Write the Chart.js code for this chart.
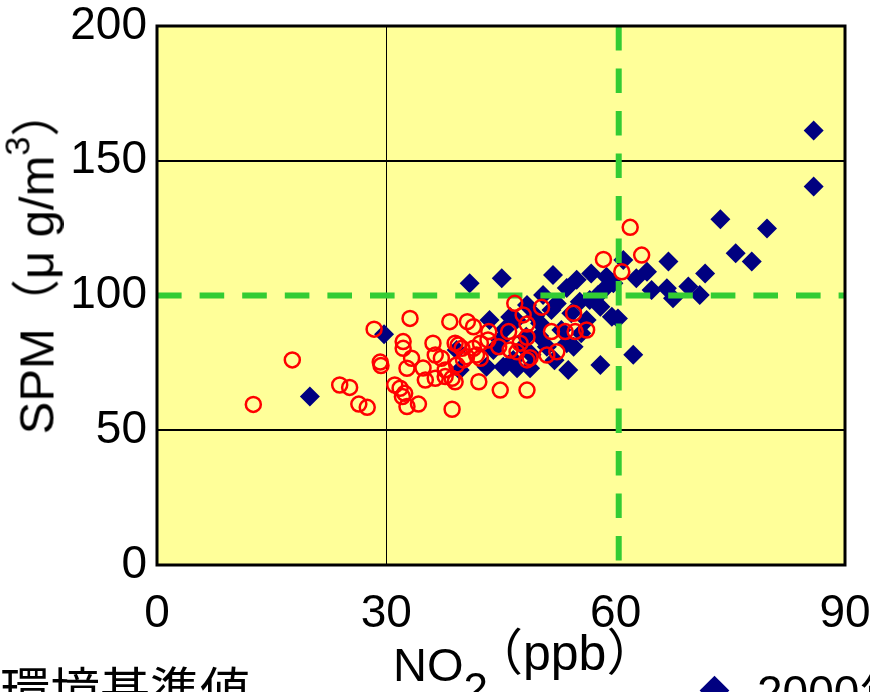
<!DOCTYPE html>
<html><head><meta charset="utf-8">
<script src="https://cdn.jsdelivr.net/npm/chart.js@4.4.1/dist/chart.umd.min.js"></script>
<style>
html,body{margin:0;padding:0;background:#fff;overflow:hidden;width:870px;height:692px;}
#wrap{position:relative;width:870px;height:692px;overflow:hidden;}
canvas{position:absolute;left:0;top:0;}
.t{position:absolute;white-space:nowrap;color:#000;line-height:1;font-family:"Liberation Sans","Noto Sans CJK JP",sans-serif;}
</style></head><body>
<div id="wrap">
<canvas id="c" width="870" height="692"></canvas>
<div class="t" id="ytitle"></div>
<div class="t" id="xtitle1"></div>
<div class="t" id="xtitle2"></div>
<div class="t" id="leg1"></div>
<div class="t" id="leg2"></div>
</div>
<script>
// ---- data ----
const xTitle = "NO";
const xTitleSub = "2";
const xTitleUnit = "（ppb）";
const yTitle = "SPM（μ g/m";
const yTitleSup = "3";
const yTitleEnd = "）";
const stdLabel = "環境基準値";
const label2000 = "2000年度";
const label2010 = "2010年度";

const xTicks = [0, 30, 60, 90];
const yTicks = [0, 50, 100, 150, 200];

// environmental standard lines
const stdNO2 = 60.4;
const stdSPM = 100;

// 2000 series (blue diamonds)
const no2_2000 = [20.0,29.7,39.2,39.6,40.9,43.1,43.5,44.0,44.9,45.1,45.3,45.5,46.6,47.0,47.1,47.9,48.3,48.4,48.8,49.5,
  50.1,50.5,51.0,51.6,51.8,52.3,52.9,53.6,53.6,53.8,54.2,54.5,54.9,55.3,56.2,56.6,56.8,57.7,58.0,58.0,
  58.8,58.4,59.5,59.7,60.3,61.0,62.3,62.7,64.1,64.7,66.7,66.9,67.5,69.5,71.0,71.7,73.7,75.7,77.8,79.8,
  85.9,85.9,46.2,50.0,55.5,52.0,49.0];
const spm_2000 = [62.5,85.6,79.8,72.4,104.5,73.6,90.9,79.8,83.5,106.4,73.6,87.5,76.1,90.9,73.0,81.0,84.7,96.5,73.0,92.5,
  89.7,100.2,81.0,94.6,107.6,97.0,87.2,102.8,82.3,72.4,93.4,81.0,105.8,97.7,90.9,98.3,108.2,100.2,95.8,74.2,
  107.0,102.0,92.1,104.5,91.5,113.2,78.0,106.4,108.8,102.0,102.7,112.6,99.0,103.3,100.2,108.2,128.3,115.7,112.6,124.9,
  161.2,140.4,92.0,85.0,86.0,76.0,78.0];

// 2010 series (red open circles)
const no2_2010 = [12.6,17.7,23.9,25.2,26.4,27.5,28.4,29.2,29.3,31.1,31.8,32.1,32.4,32.2,32.2,32.7,32.7,33.1,33.3,34.2,
  34.8,35.1,36.1,36.4,36.4,37.2,37.7,37.7,38.3,38.6,38.6,39.0,39.0,39.2,39.4,39.9,40.1,40.5,40.6,41.4,
  41.4,41.8,42.1,42.3,42.3,43.3,43.4,44.7,44.9,46.0,46.2,46.8,47.1,47.5,47.9,48.4,48.4,48.4,48.4,48.8,
  50.3,51.0,51.6,52.3,53.4,54.5,54.7,56.2,58.4,60.8,61.9,63.4];
const spm_2010 = [59.6,76.1,66.8,65.9,59.7,58.5,87.5,75.3,74.0,66.8,65.6,62.5,63.7,82.9,80.4,73.0,58.8,91.5,76.7,59.7,
  73.1,68.6,82.3,77.9,69.3,76.7,69.9,72.4,90.3,69.3,57.8,68.0,82.3,74.2,81.6,80.4,76.1,77.3,90.3,88.4,
  80.4,77.9,68.0,82.3,76.7,83.5,86.6,81.0,64.9,86.6,79.8,97.1,79.1,82.3,92.8,89.4,84.5,76.1,64.9,76.9,
  95.6,77.9,86.6,79.1,86.6,93.4,86.6,87.2,113.4,108.8,125.3,115.0];

// ---- build ----
const pts = (xs, ys) => xs.map((x, i) => ({x: x, y: ys[i]}));

const frame = {
  id: 'frame',
  beforeDraw(chart) {
    const a = chart.chartArea, ctx = chart.ctx;
    ctx.save();
    ctx.fillStyle = '#FFFF99';
    ctx.fillRect(a.left, a.top, a.right - a.left, a.bottom - a.top);
    ctx.restore();
  },
  afterDraw(chart) {
    const a = chart.chartArea, ctx = chart.ctx;
    ctx.save();
    ctx.strokeStyle = '#000';
    ctx.lineWidth = 3;
    ctx.strokeRect(a.left, a.top, a.right - a.left, a.bottom - a.top);
    ctx.restore();
  }
};

const font = {family: '"Liberation Sans", "Noto Sans CJK JP", sans-serif', size: 46};

new Chart(document.getElementById('c'), {
  type: 'scatter',
  data: {
    datasets: [
      {label: label2010, data: pts(no2_2010, spm_2010), order: 0,
       pointStyle: 'circle', pointRadius: 7.5, pointBorderWidth: 2.5,
       borderColor: '#FF0000', backgroundColor: 'rgba(0,0,0,0)'},
      {label: stdLabel, data: [{x: stdNO2, y: yTicks[yTicks.length-1]}, {x: stdNO2, y: yTicks[0]}], order: 1,
       showLine: true, pointRadius: 0, borderColor: '#33CC33', borderWidth: 6, borderDash: [24.5, 18]},
      {label: stdLabel, data: [{x: xTicks[0], y: stdSPM}, {x: xTicks[xTicks.length-1], y: stdSPM}], order: 1,
       showLine: true, pointRadius: 0, borderColor: '#33CC33', borderWidth: 6, borderDash: [24.6, 18]},
      {label: label2000, data: pts(no2_2000, spm_2000), order: 2,
       pointStyle: 'rectRot', pointRadius: 10, pointBorderWidth: 0,
       borderColor: '#000080', backgroundColor: '#000080'}
    ]
  },
  options: {
    responsive: false,
    devicePixelRatio: 1,
    animation: false,
    events: [],
    layout: {padding: {top: 26, right: 25, bottom: 0, left: 0}},
    plugins: {legend: {display: false}, tooltip: {enabled: false}},
    scales: {
      x: {
        type: 'linear', min: xTicks[0], max: xTicks[xTicks.length-1],
        afterBuildTicks: s => { s.ticks = xTicks.map(v => ({value: v})); },
        afterFit: s => { s.height = 127; s.paddingLeft = 0; s.paddingRight = 0; },
        border: {display: false},
        grid: {drawTicks: false, lineWidth: 1,
               color: c => (c.tick && c.tick.value === 30) ? '#000' : 'rgba(0,0,0,0)'},
        ticks: {color: '#000', font: font, padding: 22, maxRotation: 0}
      },
      y: {
        type: 'linear', min: yTicks[0], max: yTicks[yTicks.length-1],
        afterBuildTicks: s => { s.ticks = yTicks.map(v => ({value: v})); },
        afterFit: s => { s.width = 157; s.paddingTop = 0; s.paddingBottom = 0; },
        border: {display: false},
        grid: {drawTicks: false, lineWidth: 2,
               color: c => (c.tick && (c.tick.value === 50 || c.tick.value === 150)) ? '#000' : 'rgba(0,0,0,0)'},
        ticks: {color: '#000', font: font, padding: 10}
      }
    }
  },
  plugins: [frame]
});

// ---- HTML texts ----
const yt = document.getElementById('ytitle');
yt.innerHTML = yTitle + '<span style="font-size:0.7em;position:relative;top:-0.7em">' + yTitleSup + '</span>' + yTitleEnd;
yt.style.fontSize = '49px';
yt.style.left = '37px'; yt.style.top = '261px';
yt.style.transform = 'translate(-50%,-50%) rotate(-90deg)';

const x1 = document.getElementById('xtitle1');
x1.innerHTML = xTitle + '<span style="font-size:44px;position:relative;top:23px">' + xTitleSub + '</span>';
x1.style.fontSize = '47px'; x1.style.left = '393px'; x1.style.top = '641px';

const x2 = document.getElementById('xtitle2');
x2.textContent = xTitleUnit;
x2.style.fontSize = '50px'; x2.style.left = '473px'; x2.style.top = '628px';

const l1 = document.getElementById('leg1');
l1.textContent = stdLabel;
l1.style.fontFamily = '"Noto Sans CJK JP", sans-serif';
l1.style.fontSize = '50px'; l1.style.left = '0px'; l1.style.top = '662px';

const l2 = document.getElementById('leg2');
l2.innerHTML = '<span style="display:inline-block;width:21px;height:21px;background:#000080;transform:rotate(45deg);position:absolute;left:-53px;top:11px"></span>' + label2000;
l2.style.fontSize = '46px'; l2.style.left = '757px'; l2.style.top = '669px';
</script>
</body></html>
